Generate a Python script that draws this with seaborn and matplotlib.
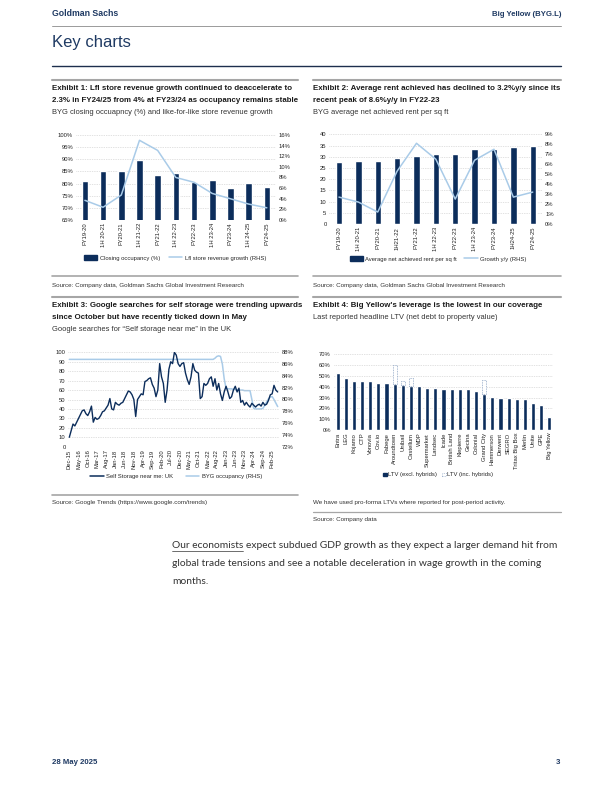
import numpy as np
import pandas as pd
import matplotlib
matplotlib.use('Agg')
import matplotlib.pyplot as plt
import seaborn as sns
from matplotlib import font_manager
from matplotlib.lines import Line2D
from matplotlib.patches import Patch
from matplotlib.ticker import FuncFormatter, MultipleLocator

# Exhibit 1 - closing occupancy and lfl revenue growth
ex1_periods = ['FY19-20', '1H 20-21', 'FY20-21', '1H 21-22', 'FY21-22', '1H 22-23',
               'FY22-23', '1H 23-24', 'FY23-24', '1H 24-25', 'FY24-25']
ex1_occupancy = [81.2, 85.2, 85.2, 89.7, 83.6, 84.2, 80.7, 81.3, 78.2, 80.4, 78.6]
ex1_lfl_growth = [3.7, 2.4, 4.7, 15.0, 13.1, 8.0, 7.1, 5.0, 4.0, 3.0, 2.3]

# Exhibit 2 - rent per sq ft and growth
ex2_periods = ['FY19-20', '1H 20-21', 'FY20-21', '1H21-22', 'FY21-22', '1H 22-23',
               'FY22-23', '1H 23-24', 'FY23-24', '1H24-25', 'FY24-25']
ex2_rent = [27.8, 28.0, 28.1, 29.4, 30.5, 31.4, 31.2, 33.3, 33.6, 34.3, 34.8]
ex2_growth = [2.7, 2.2, 1.2, 5.3, 8.1, 6.5, 2.5, 6.4, 7.5, 2.7, 3.2]

# Exhibit 3 - google searches (monthly from Dec-15) and BYG occupancy
ex3_start = '2015-12-01'
ex3_search = [10, 17, 24, 22, 26, 30, 34, 38, 39, 35,
              33, 37, 43, 26, 31, 29, 30, 33, 37, 38,
              41, 44, 51, 40, 39, 47, 45, 44, 46, 47,
              51, 55, 59, 58, 55, 50, 32, 50, 53, 56,
              55, 69, 70, 72, 73, 66, 62, 53, 60, 88,
              74, 67, 47, 60, 82, 90, 88, 100, 97, 88,
              85, 88, 89, 78, 71, 66, 74, 88, 81, 79,
              78, 51, 53, 67, 65, 67, 72, 74, 64, 72,
              60, 67, 56, 49, 58, 64, 58, 51, 53, 60,
              64, 58, 62, 47, 49, 44, 47, 44, 42, 46,
              44, 42, 44, 45, 43, 47, 44, 45, 49, 55,
              56, 65, 60, 58]
ex3_occupancy = [86.8, 86.8, 86.8, 86.8, 86.8, 86.8, 86.8, 86.8, 86.8, 86.8,
                 86.8, 86.8, 86.8, 86.8, 86.8, 86.8, 86.8, 86.8, 86.8, 86.8,
                 86.8, 86.8, 86.8, 86.8, 86.8, 86.8, 86.8, 86.8, 86.8, 86.8,
                 86.8, 86.8, 86.8, 86.8, 86.8, 86.8, 86.8, 86.8, 86.8, 86.8,
                 86.8, 86.8, 86.8, 86.8, 86.8, 86.8, 86.8, 86.8, 86.8, 86.8,
                 86.8, 86.8, 86.8, 86.8, 86.8, 86.8, 86.8, 86.8, 86.8, 86.8,
                 86.8, 86.8, 86.8, 86.8, 86.8, 86.8, 86.8, 86.8, 86.8, 86.8,
                 86.8, 86.8, 86.8, 86.8, 86.8, 86.8, 86.8, 86.8, 86.8, 87.0,
                 87.3, 87.4, 87.3, 86.0, 83.5, 81.9, 81.8, 81.8, 81.8, 81.7,
                 81.7, 81.6, 81.6, 81.6, 81.6, 81.5, 81.5, 81.5, 81.5, 80.0,
                 78.5, 78.4, 78.4, 78.4, 78.4, 78.5, 79.0, 79.6, 80.1, 80.4,
                 80.5, 80.0, 79.4, 78.8]

# Exhibit 4 - LTV
ex4_names = ['Entra', 'LEG', 'Kojamo', 'CTP', 'Vonovia', 'Cov.io', 'Fabege', 'Aroundtown',
             'Unibail', 'Castellum', 'WDP', 'Supermarket', 'Landsec', 'Icade', 'British Land',
             'Klepierre', 'Gecina', 'Colonial', 'Grand City', 'Hammerson', 'Derwent', 'SEGRO',
             'Tritax Big Box', 'Merlin', 'Unite', 'GPE', 'Big Yellow']
ex4_ltv = [53.0, 48.4, 45.3, 45.3, 45.3, 43.8, 43.8, 42.9, 41.3, 40.5, 40.7, 38.9, 38.9,
           37.9, 37.9, 37.9, 37.9, 36.1, 33.0, 30.8, 29.9, 29.3, 29.0, 28.7, 24.7, 23.1, 12.3]
ex4_hybrid_names = ['Aroundtown', 'Unibail', 'Castellum', 'Grand City']
ex4_hybrid_ltv = [60.0, 45.3, 48.0, 46.2]

NAVY = '#0c2d5b'
LIGHT = '#a9cbe8'
HEAD = '#1f3a63'
GRAY = '#a6a6a6'

sns.set_style('white')
names = {f.name for f in font_manager.fontManager.ttflist}
NARROW = 'Liberation Sans Narrow' if 'Liberation Sans Narrow' in names else 'Liberation Sans'
plt.rcParams['font.family'] = ['Liberation Sans', 'DejaVu Sans']

W, H = 612, 792
fig = plt.figure(figsize=(W / 100, H / 100), dpi=100)


def box(x0, y0, x1, y1):
    return fig.add_axes([x0 / W, 1 - y1 / H, (x1 - x0) / W, (y1 - y0) / H])


def ftext(x, y, s, **kw):
    kw.setdefault('va', 'center')
    return fig.text(x / W, 1 - y / H, s, **kw)


def hline(x0, x1, y, color, lw):
    fig.add_artist(Line2D([x0 / W, x1 / W], [1 - y / H, 1 - y / H], color=color, lw=lw))


def style(ax, ax2):
    for a in (ax, ax2):
        for s in a.spines.values():
            s.set_visible(False)
        a.tick_params(length=0, labelsize=4.2, colors='#222222', pad=2)
        a.set_xlabel('')
        a.set_ylabel('')
    ax.grid(axis='y', color='#c4c4c4', lw=0.5, ls=(0, (1, 1.5)))
    ax.grid(axis='x', visible=False)
    ax.set_axisbelow(True)


pct = FuncFormatter(lambda v, p: f'{v:.0f}%')

# ---------------- page text ----------------
ftext(52, 14, 'Goldman Sachs', fontsize=6.3, fontweight='bold', color=HEAD, family=NARROW)
ftext(561, 14, 'Big Yellow (BYG.L)', fontsize=5.6, fontweight='bold', color=HEAD,
      family=NARROW, ha='right')
hline(52, 561, 26, '#9a9a9a', 0.7)
ftext(52, 42, 'Key charts', fontsize=12, color=HEAD)
hline(52, 561, 66, '#1d2f4d', 1.0)

for x0, x1 in [(52, 298), (313, 561)]:
    hline(x0, x1, 80, GRAY, 1.5)
    hline(x0, x1, 276, GRAY, 1.2)
    hline(x0, x1, 297, GRAY, 1.5)
hline(52, 298, 495, GRAY, 1.2)
hline(313, 561, 512, GRAY, 0.9)

tkw = dict(fontsize=5.65, fontweight='bold', color='#1a1a1a', family=NARROW, va='center')
skw = dict(fontsize=5.4, color='#333333', family=NARROW)
ftext(52, 88, 'Exhibit 1: Lfl store revenue growth continued to deaccelerate to', **tkw)
ftext(52, 100, '2.3% in FY24/25 from 4% at FY23/24 as occupancy remains stable', **tkw)
ftext(52, 112, 'BYG closing occuapncy (%) and like-for-like store revenue growth', **skw)
ftext(313, 88, 'Exhibit 2: Average rent achieved has declined to 3.2%y/y since its', **tkw)
ftext(313, 100, 'recent peak of 8.6%y/y in FY22-23', **tkw)
ftext(313, 112, 'BYG average net achieved rent per sq ft', **skw)
ftext(52, 305, 'Exhibit 3: Google searches for self storage were trending upwards', **tkw)
ftext(52, 317, 'since October but have recently ticked down in May', **tkw)
ftext(52, 329, 'Google searches for \u201cSelf storage near me\u201d in the UK', **skw)
ftext(313, 305, "Exhibit 4: Big Yellow's leverage is the lowest in our coverage", **tkw)
ftext(313, 317, 'Last reported headline LTV (net debt to property value)', **skw)

srckw = dict(fontsize=4.5, color='#333333', family=NARROW)
ftext(52, 285, 'Source: Company data, Goldman Sachs Global Investment Research', **srckw)
ftext(313, 285, 'Source: Company data, Goldman Sachs Global Investment Research', **srckw)
ftext(52, 503, 'Source: Google Trends (https://www.google.com/trends)', **srckw)
ftext(313, 503, 'We have used pro-forma LTVs where reported for post-period activity.', **srckw)
ftext(313, 520, 'Source: Company data', **srckw)

lgkw = dict(loc='center', ncol=2, frameon=False, fontsize=4.2, handlelength=2.3,
            handleheight=0.8, handletextpad=0.4)

# ---------------- Exhibit 1 ----------------
df1 = pd.DataFrame({'period': ex1_periods, 'occ': ex1_occupancy, 'lfl': ex1_lfl_growth})
df1['pos'] = np.arange(len(df1))
ax1 = box(75.8, 135, 275.9, 220)
sns.barplot(data=df1, x='period', y='occ', color=NAVY, saturation=1, width=0.36, ax=ax1)
ax1b = ax1.twinx()
sns.lineplot(data=df1, x='pos', y='lfl', color=LIGHT, lw=1.1, ax=ax1b)
ax1.set_xlim(-0.5, len(df1) - 0.5)
ax1.set_ylim(65, 100)
ax1.yaxis.set_major_locator(MultipleLocator(5))
ax1.yaxis.set_major_formatter(pct)
ax1b.set_ylim(0, 16)
ax1b.yaxis.set_major_locator(MultipleLocator(2))
ax1b.yaxis.set_major_formatter(pct)
style(ax1, ax1b)
ax1.tick_params(axis='x', rotation=90)
fig.legend([Patch(color=NAVY), Line2D([], [], color=LIGHT, lw=1.1)],
           ['Closing occupancy (%)', 'Lfl store revenue growth (RHS)'],
           bbox_to_anchor=(175 / W, 1 - 258 / H), columnspacing=1.5, **lgkw)

# ---------------- Exhibit 2 ----------------
df2 = pd.DataFrame({'period': ex2_periods, 'rent': ex2_rent, 'growth': ex2_growth})
df2['pos'] = np.arange(len(df2))
ax2 = box(329.3, 134.3, 542.4, 224)
sns.barplot(data=df2, x='period', y='rent', color=NAVY, saturation=1, width=0.33, ax=ax2)
ax2b = ax2.twinx()
sns.lineplot(data=df2, x='pos', y='growth', color=LIGHT, lw=1.1, ax=ax2b)
ax2.set_xlim(-0.5, len(df2) - 0.5)
ax2.set_ylim(0, 40)
ax2.yaxis.set_major_locator(MultipleLocator(5))
ax2b.set_ylim(0, 9)
ax2b.yaxis.set_major_locator(MultipleLocator(1))
ax2b.yaxis.set_major_formatter(pct)
style(ax2, ax2b)
ax2.tick_params(axis='x', rotation=90)
fig.legend([Patch(color=NAVY), Line2D([], [], color=LIGHT, lw=1.1)],
           ['Average net achieved rent per sq ft', 'Growth y/y (RHS)'],
           bbox_to_anchor=(438 / W, 1 - 259 / H), columnspacing=1.2, **lgkw)

# ---------------- Exhibit 3 ----------------
months = pd.date_range(ex3_start, periods=len(ex3_search), freq='MS')
df3 = pd.DataFrame({'idx': np.arange(len(months)), 'search': ex3_search,
                    'occ': ex3_occupancy})
ax3 = box(68.4, 352.3, 278.6, 446.7)
ax3b = ax3.twinx()
sns.lineplot(data=df3, x='idx', y='occ', color=LIGHT, lw=1.1, ax=ax3b)
sns.lineplot(data=df3, x='idx', y='search', color=NAVY, lw=1.0, ax=ax3)
ax3.set_zorder(ax3b.get_zorder() + 1)
ax3.patch.set_visible(False)
ax3.set_xlim(-0.5, len(df3) - 0.5)
ax3.set_ylim(0, 100)
ax3.yaxis.set_major_locator(MultipleLocator(10))
ax3b.set_ylim(72, 88)
ax3b.yaxis.set_major_locator(MultipleLocator(2))
ax3b.yaxis.set_major_formatter(pct)
tick_idx = df3['idx'].values[::5]
ax3.set_xticks(tick_idx)
ax3.set_xticklabels(months[::5].strftime('%b-%y'), rotation=90)
style(ax3, ax3b)
fig.legend([Line2D([], [], color=NAVY, lw=1.1), Line2D([], [], color=LIGHT, lw=1.1)],
           ['Self Storage near me: UK', 'BYG occupancy (RHS)'],
           bbox_to_anchor=(176 / W, 1 - 476.5 / H), columnspacing=2.2, **lgkw)

# ---------------- Exhibit 4 ----------------
df4 = pd.DataFrame({'name': ex4_names, 'ltv': ex4_ltv})
ax4 = box(333.6, 354.3, 553.4, 430)
sns.barplot(data=df4, x='name', y='ltv', color=NAVY, saturation=1, width=0.5, ax=ax4)
hyb_pos = [ex4_names.index(n) for n in ex4_hybrid_names]
hyb_base = [ex4_ltv[i] for i in hyb_pos]
ax4.bar(hyb_pos, np.array(ex4_hybrid_ltv) - np.array(hyb_base), bottom=hyb_base, width=0.5,
        facecolor='white', edgecolor='#8da4c4', lw=0.6, ls=(0, (1, 1)))
ax4.set_xlim(-0.5, len(df4) - 0.5)
ax4.set_ylim(0, 70)
ax4.yaxis.set_major_locator(MultipleLocator(10))
ax4.yaxis.set_major_formatter(pct)
for s in ax4.spines.values():
    s.set_visible(False)
ax4.tick_params(length=0, labelsize=4.2, colors='#222222', pad=2)
ax4.tick_params(axis='x', rotation=90)
ax4.set_xlabel('')
ax4.set_ylabel('')
ax4.grid(axis='y', color='#c4c4c4', lw=0.5, ls=(0, (1, 1.5)))
ax4.set_axisbelow(True)
fig.legend([Patch(color=NAVY), Patch(facecolor='white', edgecolor='#8da4c4', lw=0.6, ls=':')],
           ['LTV (excl. hybrids)', 'LTV (inc. hybrids)'],
           loc='center', bbox_to_anchor=(438 / W, 1 - 475 / H), ncol=2, frameon=False,
           fontsize=4.2, handlelength=0.6, handleheight=0.6, handletextpad=0.15,
           columnspacing=1.0)

# ---------------- body text ----------------
bkw = dict(fontsize=7.4, color='#333333', family='Lato')
body = ['Our economists expect subdued GDP growth as they expect a larger demand hit from',
        'global trade tensions and see a notable deceleration in wage growth in the coming',
        'months.']
for i, line in enumerate(body):
    ftext(172, 545 + 18 * i, line, **bkw)
fig.canvas.draw()
probe = ftext(172, 545, 'Our economists', alpha=0, **bkw)
bb = probe.get_window_extent(renderer=fig.canvas.get_renderer())
hline(172, 172 + bb.width, 550.5, '#333333', 0.5)

ftext(52, 763, '28 May 2025', fontsize=5.6, fontweight='bold', color=HEAD, family=NARROW)
ftext(560, 763, '3', fontsize=5.6, fontweight='bold', color=HEAD, family=NARROW, ha='right')

fig.savefig('out.png', dpi=100)
